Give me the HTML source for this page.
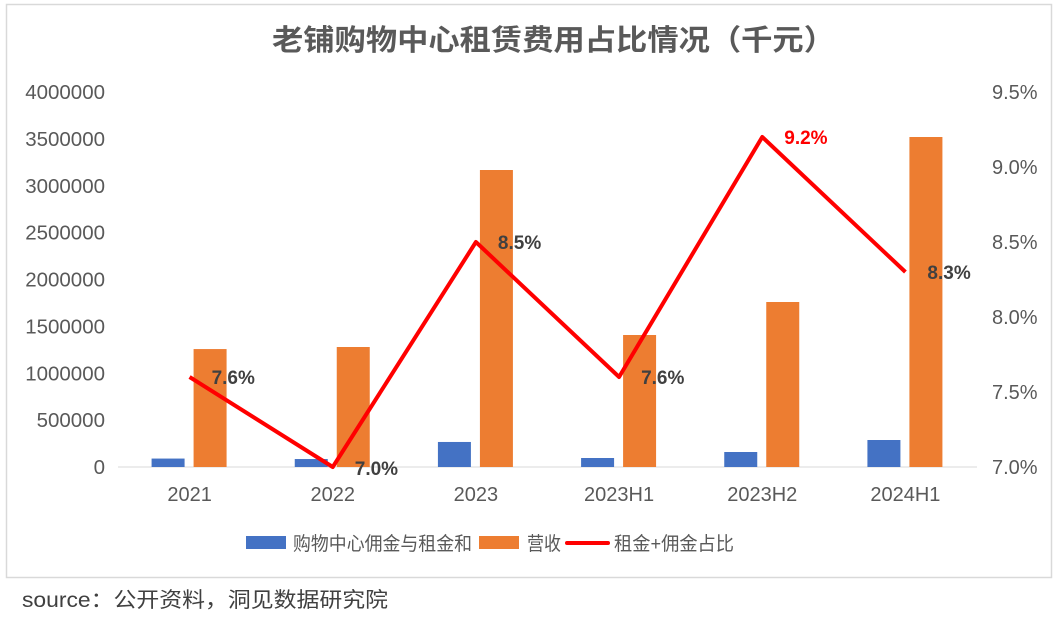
<!DOCTYPE html>
<html><head><meta charset="utf-8">
<style>
body{margin:0;background:#fff;width:1058px;height:612px;overflow:hidden;font-family:"Liberation Sans","Noto Sans CJK SC",sans-serif;}
</style></head>
<body>
<svg id="c" width="1058" height="612" xmlns="http://www.w3.org/2000/svg">
<rect x="6.5" y="4.5" width="1045" height="573" fill="#fff" stroke="#d9d9d9" stroke-width="1.5"/>
<text x="272" y="50" textLength="563" lengthAdjust="spacingAndGlyphs" font-size="29" font-weight="bold" fill="#595959">老铺购物中心租赁费用占比情况（千元）</text>
<g id="axes"></g>
<g id="bars"></g>
<g id="line"></g>
<g>
<rect x="246" y="536" width="40" height="13" fill="#4472c4"/>
<text x="293" y="550" textLength="179" lengthAdjust="spacingAndGlyphs" font-size="19" fill="#595959">购物中心佣金与租金和</text>
<rect x="479" y="536" width="40" height="13" fill="#ed7d31"/>
<text x="527" y="550" textLength="34" lengthAdjust="spacingAndGlyphs" font-size="19" fill="#595959">营收</text>
<line x1="567" y1="543" x2="608" y2="543" stroke="#ff0000" stroke-width="4" stroke-linecap="round"/>
<text x="614" y="550" textLength="120" lengthAdjust="spacingAndGlyphs" font-size="19" fill="#595959">租金+佣金占比</text>
</g>
<text x="22" y="607" textLength="366" lengthAdjust="spacingAndGlyphs" font-size="21" fill="#404040">source：公开资料，洞见数据研究院</text>
</svg>
<script>
const categories=["2021","2022","2023","2023H1","2023H2","2024H1"];
const commission=[90000,85000,267000,96000,160000,288000];
const revenue=[1258000,1280000,3168000,1408000,1760000,3520000];
const ratio=[7.6,7.0,8.5,7.6,9.2,8.3];
const leftTicks=[0,500000,1000000,1500000,2000000,2500000,3000000,3500000,4000000];
const rightTicks=[7.0,7.5,8.0,8.5,9.0,9.5];
const NS="http://www.w3.org/2000/svg";
const y0=467,y1=92,xL=118,xR=977;
const yL=v=>y0-(v/4000000)*(y0-y1);
const yR=v=>y0-((v-7)/2.5)*(y0-y1);
const step=(xR-xL)/categories.length;
const xC=i=>xL+step*(i+0.5);
function mk(tag,attrs,parent){const e=document.createElementNS(NS,tag);for(const k in attrs)e.setAttribute(k,attrs[k]);parent.appendChild(e);return e;}
const ax=document.getElementById('axes'),bg=document.getElementById('bars'),lg=document.getElementById('line');
let base=mk('line',{x1:xL,x2:xR,y1:y0,y2:y0,stroke:'#d9d9d9','stroke-width':1},ax);


leftTicks.forEach(v=>{const t=mk('text',{x:105,y:yL(v)+7,'text-anchor':'end','font-size':20.5,fill:'#595959'},ax);t.textContent=v;

});
rightTicks.forEach(v=>{const t=mk('text',{x:992,y:yR(v)+7,'font-size':20,fill:'#595959'},ax);t.textContent=v.toFixed(1)+'%';

});
categories.forEach((c,i)=>{const t=mk('text',{x:xC(i),y:501,'text-anchor':'middle','font-size':20,fill:'#595959'},ax);t.textContent=c;


const b1=mk('rect',{x:xC(i)-38,y:yL(commission[i]),width:33,height:y0-yL(commission[i]),fill:'#4472c4'},bg);


const b2=mk('rect',{x:xC(i)+4,y:yL(revenue[i]),width:33,height:y0-yL(revenue[i]),fill:'#ed7d31'},bg);

});
const pl=mk('polyline',{points:ratio.map((v,i)=>xC(i)+','+yR(v)).join(' '),fill:'none',stroke:'#ff0000','stroke-width':4,'stroke-linejoin':'round'},lg);


ratio.forEach((v,i)=>{const mx=ratio.indexOf(Math.max(...ratio))===i;
const t=mk('text',{x:xC(i)+22,y:yR(v)+(i===1?8:7),'font-size':19,fill:mx?'#ff0000':'#404040','font-weight':'bold'},lg);
t.textContent=v.toFixed(1)+'%';

});
</script>
</body></html>
